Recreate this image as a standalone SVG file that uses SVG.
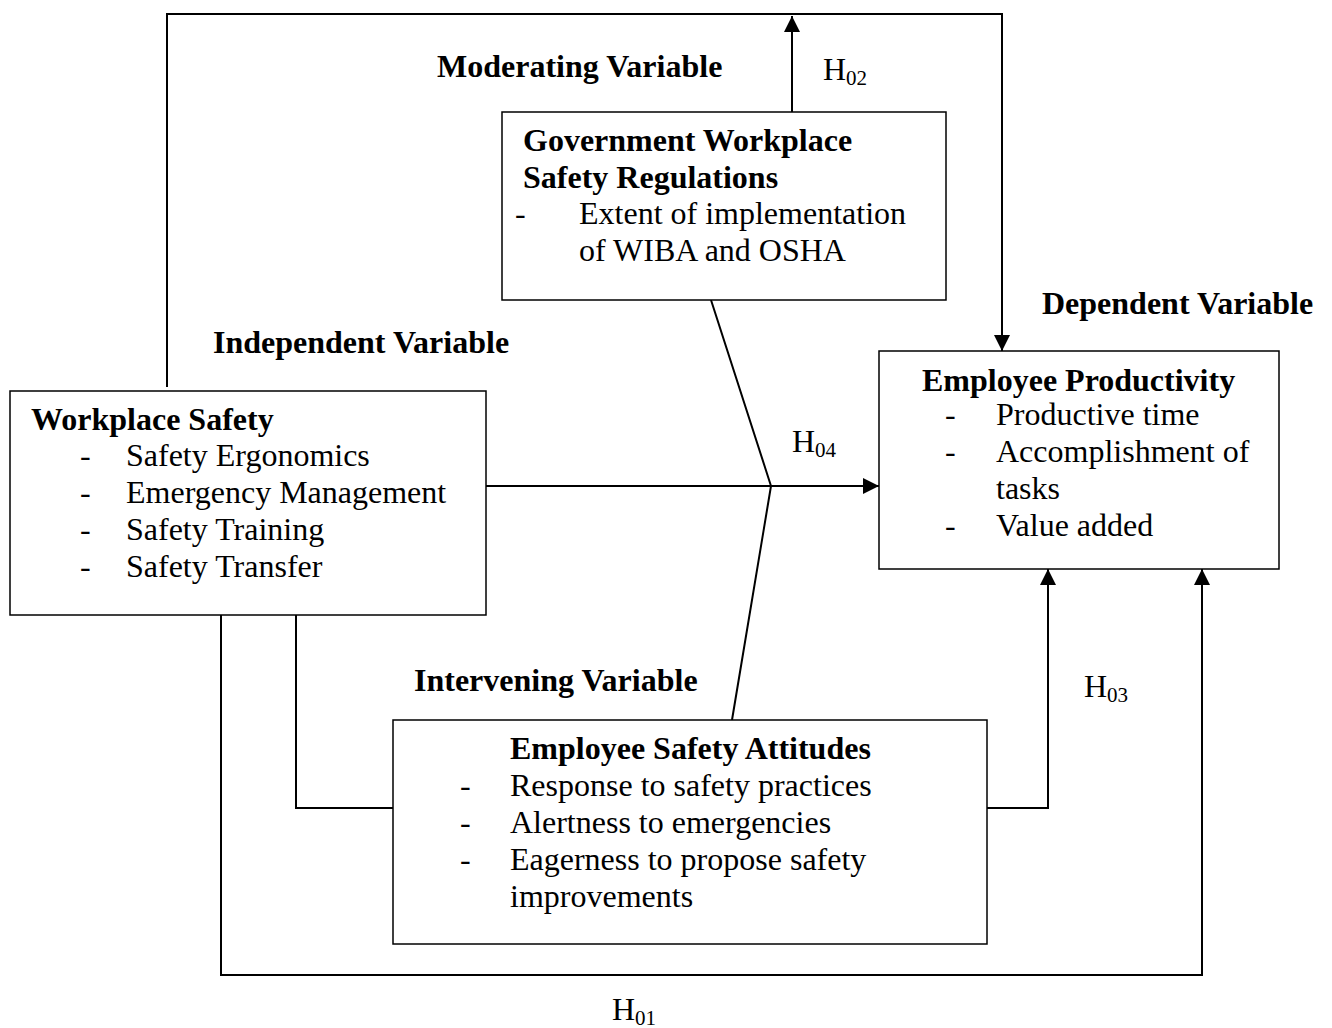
<svg xmlns="http://www.w3.org/2000/svg" width="1332" height="1028" viewBox="0 0 1332 1028">
<style>
text{font-family:"Liberation Serif","Times New Roman",serif;font-size:32px;fill:#000}
.b{font-weight:bold}
.sub{font-size:21px}
.box{fill:#fff;stroke:#000;stroke-width:1.5}
.ln{fill:none;stroke:#000;stroke-width:2}
</style>
<defs>
<marker id="ar" viewBox="0 0 10 10" refX="10" refY="5" markerWidth="16" markerHeight="16" markerUnits="userSpaceOnUse" orient="auto">
<path d="M0,0 L10,5 L0,10 z" fill="#000"/>
</marker>
</defs>
<rect width="1332" height="1028" fill="#fff"/>
<g id="connectors">
<polyline class="ln" points="167,387 167,14 1002,14 1002,351" marker-end="url(#ar)"/>
<line class="ln" x1="792" y1="112" x2="792" y2="16" marker-end="url(#ar)"/>
<line class="ln" x1="486" y1="486" x2="879" y2="486" marker-end="url(#ar)"/>
<polyline class="ln" points="711,300 771,486 732,720"/>
<polyline class="ln" points="296,615 296,808 393,808"/>
<polyline class="ln" points="221,615 221,975 1202,975 1202,569" marker-end="url(#ar)"/>
<polyline class="ln" points="987,808 1048,808 1048,569" marker-end="url(#ar)"/>
</g>
<g id="labels">
<text class="b" x="437" y="77">Moderating Variable</text>
<text class="b" x="213" y="353">Independent Variable</text>
<text class="b" x="1042" y="314">Dependent Variable</text>
<text class="b" x="414" y="691">Intervening Variable</text>
<text x="823" y="80">H<tspan class="sub" dy="5">02</tspan></text>
<text x="792" y="452">H<tspan class="sub" dy="5">04</tspan></text>
<text x="1084" y="697">H<tspan class="sub" dy="5">03</tspan></text>
<text x="612" y="1020">H<tspan class="sub" dy="5">01</tspan></text>
</g>
<g id="gov">
<rect class="box" x="502" y="112" width="444" height="188"/>
<text class="b" x="523" y="151">Government Workplace</text>
<text class="b" x="523" y="188">Safety Regulations</text>
<text x="515" y="224">-</text>
<text x="579" y="224">Extent of implementation</text>
<text x="579" y="261">of WIBA and OSHA</text>
</g>
<g id="productivity">
<rect class="box" x="879" y="351" width="400" height="218"/>
<text class="b" x="922" y="391">Employee Productivity</text>
<text x="945" y="425">-</text>
<text x="996" y="425">Productive time</text>
<text x="945" y="462">-</text>
<text x="996" y="462">Accomplishment of</text>
<text x="996" y="499">tasks</text>
<text x="945" y="536">-</text>
<text x="996" y="536">Value added</text>
</g>
<g id="workplace">
<rect class="box" x="10" y="391" width="476" height="224"/>
<text class="b" x="31" y="430">Workplace Safety</text>
<text x="80" y="466">-</text>
<text x="126" y="466">Safety Ergonomics</text>
<text x="80" y="503">-</text>
<text x="126" y="503">Emergency Management</text>
<text x="80" y="540">-</text>
<text x="126" y="540">Safety Training</text>
<text x="80" y="577">-</text>
<text x="126" y="577">Safety Transfer</text>
</g>
<g id="attitudes">
<rect class="box" x="393" y="720" width="594" height="224"/>
<text class="b" x="510" y="759">Employee Safety Attitudes</text>
<text x="460" y="796">-</text>
<text x="510" y="796">Response to safety practices</text>
<text x="460" y="833">-</text>
<text x="510" y="833">Alertness to emergencies</text>
<text x="460" y="870">-</text>
<text x="510" y="870">Eagerness to propose safety</text>
<text x="510" y="907">improvements</text>
</g>
</svg>
